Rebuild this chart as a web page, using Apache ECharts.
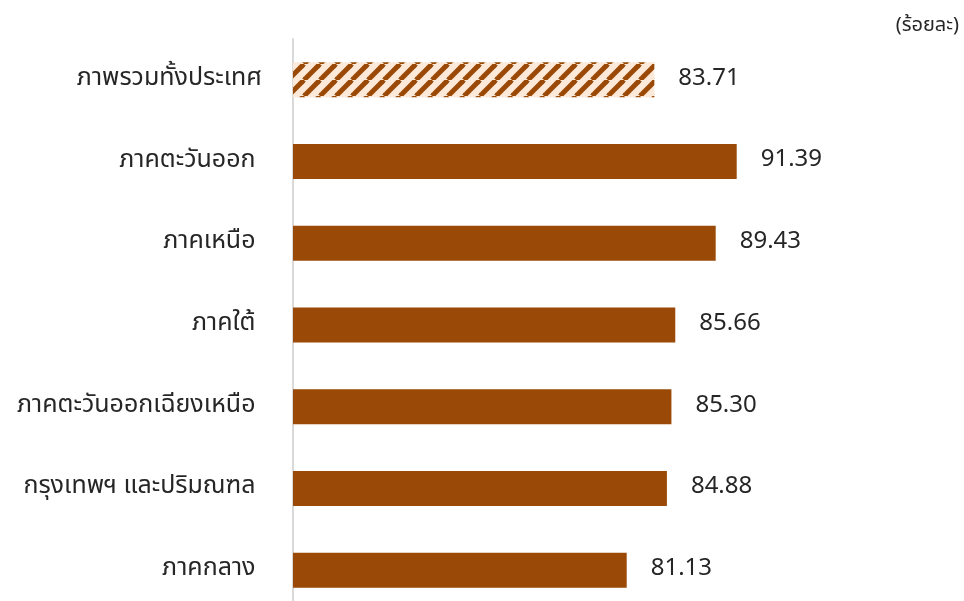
<!DOCTYPE html>
<html>
<head>
<meta charset="utf-8">
<script src="https://cdn.jsdelivr.net/npm/echarts@6/dist/echarts.min.js"></script>
<style>
  html, body { margin: 0; padding: 0; background: #ffffff; }
  #chart { width: 964px; height: 601px; }
</style>
</head>
<body>
<div id="chart"></div>
<script>
// Regions, top to bottom
const categories = [
  'ภาพรวมทั้งประเทศ',
  'ภาคตะวันออก ',
  'ภาคเหนือ ',
  'ภาคใต้ ',
  'ภาคตะวันออกเฉียงเหนือ ',
  'กรุงเทพฯ และปริมณฑล ',
  'ภาคกลาง '
];
// Percentage per region
const values = [83.71, 91.39, 89.43, 85.66, 85.30, 84.88, 81.13];
const unitLabel = '(ร้อยละ)';

const BROWN = '#9A4A06';
const PEACH = '#FDE9D9';
const FONT = "'Noto Sans Thai', 'Noto Sans', Tahoma, sans-serif";

// Diagonal stripe fill for the national total bar
function stripePattern() {
  const size = 16;
  const c = document.createElement('canvas');
  c.width = size; c.height = size;
  const g = c.getContext('2d');
  g.fillStyle = PEACH;
  g.fillRect(0, 0, size, size);
  g.strokeStyle = BROWN;
  g.lineWidth = 5;
  for (const off of [-size, 0, size]) {
    g.beginPath();
    g.moveTo(off, size);
    g.lineTo(off + size, 0);
    g.stroke();
  }
  return { image: c, repeat: 'repeat' };
}

const seriesData = values.map((v, i) => ({
  value: v,
  itemStyle: i === 0 ? { color: stripePattern() } : { color: BROWN }
}));

const chart = echarts.init(document.getElementById('chart'), null, { renderer: 'canvas' });
chart.setOption({
  animation: false,
  backgroundColor: '#ffffff',
  graphic: [{
    type: 'text',
    right: 5,
    top: 17,
    style: { text: unitLabel, font: '20px ' + FONT, fill: '#262626' }
  }],
  grid: {
    left: 293, width: 536, top: 39, height: 572,
    containLabel: false,
    outerBoundsMode: 'none'
  },
  xAxis: {
    type: 'value',
    min: 50,
    max: 100,
    show: false
  },
  yAxis: {
    type: 'category',
    inverse: true,
    data: categories,
    axisLine: { show: true, lineStyle: { color: '#d9d9d9', width: 2 } },
    axisTick: { show: false },
    axisLabel: { fontSize: 25, fontFamily: FONT, color: '#262626', margin: 31 }
  },
  series: [{
    type: 'bar',
    data: seriesData,
    barWidth: 35,
    label: {
      show: true,
      position: 'right',
      distance: 24,
      fontSize: 24,
      fontFamily: FONT,
      color: '#262626',
      formatter: p => p.value.toFixed(2)
    }
  }]
});
</script>
</body>
</html>
